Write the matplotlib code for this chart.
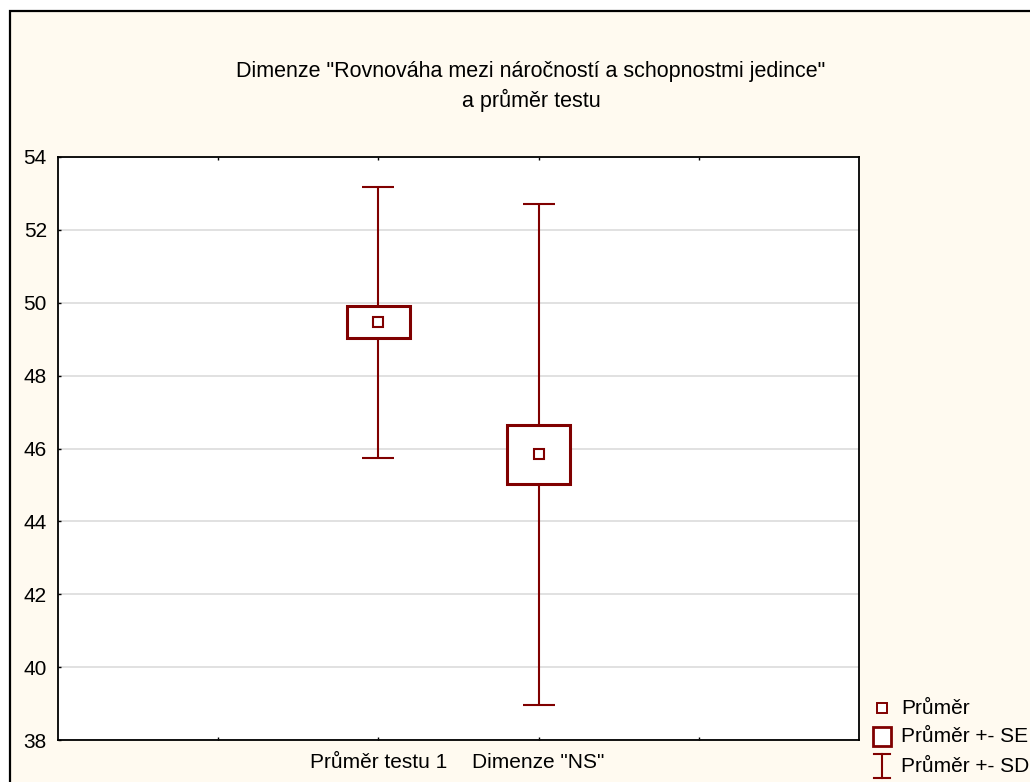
import matplotlib.pyplot as plt
from matplotlib.patches import Rectangle
from matplotlib.lines import Line2D

plt.rcParams['font.family'] = ['Liberation Sans', 'DejaVu Sans']

# hodnoty
skupiny = ['Průměr testu 1', 'Dimenze "NS"']
prumer = [49.47, 45.84]
se = [0.43, 0.81]
sd = [3.72, 6.87]

barva = '#800000'
W, H = 1030, 782
fs = 15

fig = plt.figure(figsize=(W / 100, H / 100), dpi=100, facecolor='white')

# krémové pozadí s černým rámečkem
fig.patches.append(Rectangle((10 / W, -0.05), 1.1, (H - 11) / H + 0.05,
                             transform=fig.transFigure, facecolor='#fffaf0',
                             edgecolor='black', linewidth=1.6, zorder=-10))

ax = fig.add_axes([58 / W, (H - 740) / H, 801 / W, 583 / H])
ax.set_facecolor('white')

x = [1, 2]
# SD whiskers
ax.errorbar(x, prumer, yerr=sd, fmt='none', ecolor=barva, elinewidth=1.5,
            capsize=11.5, capthick=1.5, zorder=3)
# SE boxy
for xi, m, s in zip(x, prumer, se):
    ax.add_patch(Rectangle((xi - 0.195, m - s), 0.39, 2 * s, facecolor='white',
                           edgecolor=barva, linewidth=2.2, zorder=4))
# průměry
ax.plot(x, prumer, 's', markersize=6.5, markerfacecolor='white',
        markeredgecolor=barva, markeredgewidth=1.5, zorder=5)

ax.set_xlim(-1, 4)
ax.set_ylim(38, 54)
ax.set_yticks(range(38, 55, 2))
ax.set_xticks([0, 1, 2, 3])
ax.set_xticklabels([''] + skupiny + [''])
ax.yaxis.grid(True, color='#d8d8d8', linewidth=1.1)
ax.set_axisbelow(True)
ax.tick_params(axis='both', direction='in', length=2.5, width=1, labelsize=fs)
ax.tick_params(axis='x', top=True, pad=9)
ax.tick_params(axis='y', pad=8)
for sp in ax.spines.values():
    sp.set_linewidth(1.3)

fig.text(531 / W, 1 - 72 / H, 'Dimenze "Rovnováha mezi náročností a schopnostmi jedince"',
         ha='center', va='center', fontsize=15.5)
fig.text(531 / W, 1 - 100 / H, 'a průměr testu', ha='center', va='center', fontsize=15.5)

# legenda
def fx(px):
    return px / W


def fy(py):
    return 1 - py / H


fig.add_artist(Line2D([fx(882)], [fy(708)], marker='s', markersize=6.5,
                      markerfacecolor='white', markeredgecolor=barva,
                      markeredgewidth=1.4, transform=fig.transFigure))
fig.patches.append(Rectangle((fx(873), fy(746)), 18 / W, 19 / H,
                             transform=fig.transFigure, facecolor='white',
                             edgecolor=barva, linewidth=2))
for seg in ([[882, 882], [754, 778]], [[874, 890], [754, 754]], [[874, 890], [778, 778]]):
    fig.add_artist(Line2D([fx(v) for v in seg[0]], [fy(v) for v in seg[1]],
                          color=barva, linewidth=1.5, transform=fig.transFigure))
for ty, txt in zip([708, 737, 766], ['Průměr', 'Průměr +- SE', 'Průměr +- SD']):
    fig.text(fx(901), fy(ty), txt, ha='left', va='center', fontsize=fs)

fig.savefig('out.png', dpi=100, facecolor=fig.get_facecolor())
